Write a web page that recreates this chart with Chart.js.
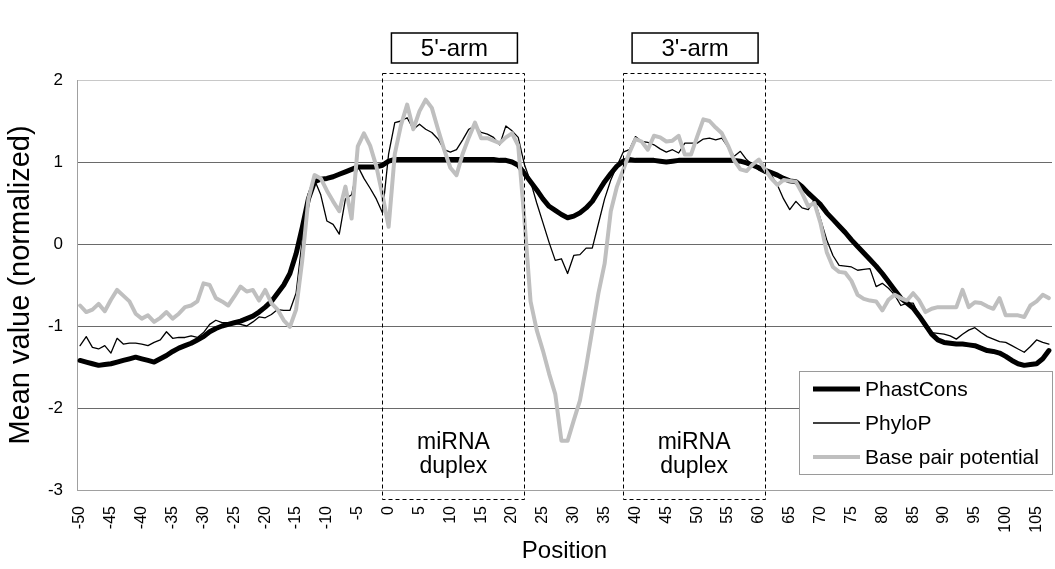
<!DOCTYPE html>
<html><head><meta charset="utf-8">
<script src="https://cdn.jsdelivr.net/npm/chart.js@4.4.0/dist/chart.umd.min.js"></script>
<style>html,body{margin:0;padding:0;background:#fff}</style>
</head><body>
<canvas id="c" width="1055" height="569"></canvas>
<script>
// Categories: positions -50 .. 107
const positions = Array.from({length: 158}, (_, i) => i - 50);
const xTickLabels = [-50,-45,-40,-35,-30,-25,-20,-15,-10,-5,0,5,10,15,20,25,30,35,40,45,50,55,60,65,70,75,80,85,90,95,100,105];
const yTickValues = [-3,-2,-1,0,1,2];

const phastCons = [
-1.42,-1.44,-1.46,-1.48,-1.47,-1.46,-1.44,-1.42,-1.40,-1.38,
-1.40,-1.42,-1.44,-1.40,-1.36,-1.31,-1.27,-1.24,-1.21,-1.17,
-1.13,-1.07,-1.03,-1.00,-0.98,-0.96,-0.94,-0.91,-0.88,-0.83,
-0.77,-0.70,-0.60,-0.50,-0.36,-0.12,0.20,0.55,0.76,0.79,
0.80,0.82,0.85,0.88,0.91,0.94,0.94,0.94,0.94,0.96,
1.01,1.03,1.03,1.03,1.03,1.03,1.03,1.03,1.03,1.03,
1.03,1.03,1.03,1.03,1.03,1.03,1.03,1.03,1.02,1.02,
1.00,0.96,0.86,0.76,0.66,0.55,0.46,0.41,0.36,0.32,
0.34,0.38,0.44,0.52,0.64,0.76,0.86,0.95,1.01,1.03,
1.02,1.02,1.02,1.02,1.01,1.00,1.01,1.02,1.02,1.02,
1.02,1.02,1.02,1.02,1.02,1.02,1.02,1.01,0.99,0.96,
0.93,0.90,0.87,0.84,0.80,0.77,0.76,0.70,0.62,0.55,
0.48,0.38,0.30,0.22,0.14,0.05,-0.03,-0.11,-0.19,-0.27,
-0.36,-0.46,-0.56,-0.66,-0.72,-0.78,-0.88,-0.99,-1.10,-1.17,
-1.20,-1.21,-1.22,-1.22,-1.23,-1.24,-1.27,-1.30,-1.31,-1.33,
-1.37,-1.42,-1.46,-1.48,-1.47,-1.46,-1.40,-1.30];

const phyloP = [
-1.24,-1.13,-1.26,-1.28,-1.24,-1.33,-1.15,-1.22,-1.21,-1.21,
-1.22,-1.24,-1.20,-1.17,-1.07,-1.15,-1.14,-1.14,-1.12,-1.14,
-1.08,-0.98,-0.93,-0.96,-0.96,-0.97,-0.98,-1.00,-0.95,-0.89,
-0.90,-0.86,-0.80,-0.81,-0.81,-0.60,0.05,0.62,0.78,0.60,
0.28,0.24,0.12,0.55,0.60,0.95,0.80,0.68,0.55,0.38,
1.10,1.48,1.50,1.54,1.40,1.46,1.40,1.36,1.28,1.15,
1.12,1.15,1.27,1.40,1.44,1.36,1.34,1.30,1.21,1.44,
1.38,1.30,0.97,0.76,0.50,0.26,0.02,-0.20,-0.18,-0.36,
-0.14,-0.13,-0.05,-0.05,0.25,0.55,0.78,0.95,1.12,1.15,
1.31,1.25,1.24,1.21,1.16,1.12,1.15,1.11,1.23,1.23,
1.23,1.28,1.29,1.27,1.29,1.18,1.07,1.13,1.03,0.96,
0.90,0.86,0.84,0.72,0.55,0.42,0.52,0.44,0.42,0.54,
0.30,0.05,-0.14,-0.26,-0.27,-0.28,-0.32,-0.31,-0.30,-0.52,
-0.48,-0.54,-0.62,-0.75,-0.72,-0.72,-0.88,-1.02,-1.08,-1.09,
-1.10,-1.12,-1.16,-1.10,-1.05,-1.02,-1.08,-1.13,-1.16,-1.19,
-1.20,-1.24,-1.28,-1.32,-1.25,-1.17,-1.20,-1.22];

const basePair = [
-0.75,-0.83,-0.80,-0.73,-0.82,-0.68,-0.56,-0.63,-0.70,-0.85,
-0.91,-0.87,-0.95,-0.90,-0.83,-0.91,-0.85,-0.77,-0.75,-0.70,
-0.48,-0.50,-0.66,-0.70,-0.75,-0.64,-0.52,-0.58,-0.56,-0.69,
-0.56,-0.72,-0.80,-0.93,-1.01,-0.80,-0.20,0.55,0.84,0.80,
0.65,0.52,0.40,0.70,0.31,1.19,1.35,1.20,0.95,0.60,
0.21,1.10,1.45,1.70,1.40,1.62,1.76,1.66,1.40,1.15,
0.93,0.84,1.10,1.30,1.48,1.29,1.29,1.26,1.23,1.30,
1.35,1.20,0.30,-0.70,-1.05,-1.30,-1.58,-1.83,-2.40,-2.40,
-2.15,-1.91,-1.50,-1.05,-0.60,-0.24,0.40,0.70,0.90,1.11,
1.28,1.25,1.15,1.32,1.30,1.25,1.26,1.32,1.09,1.09,
1.31,1.52,1.50,1.42,1.35,1.20,1.02,0.91,0.89,0.97,
1.03,0.91,0.80,0.72,0.78,0.77,0.76,0.62,0.46,0.50,
0.25,-0.10,-0.28,-0.34,-0.35,-0.45,-0.62,-0.67,-0.69,-0.70,
-0.81,-0.68,-0.62,-0.66,-0.69,-0.60,-0.69,-0.83,-0.79,-0.77,
-0.77,-0.77,-0.77,-0.56,-0.77,-0.71,-0.72,-0.76,-0.79,-0.66,
-0.87,-0.87,-0.87,-0.89,-0.75,-0.70,-0.62,-0.66];

const seriesNames = ['PhastCons', 'PhyloP', 'Base pair potential'];
const arms = [
  {label: "5'-arm", from: -1, to: 22},
  {label: "3'-arm", from: 38, to: 61}
];
const regionText = ['miRNA', 'duplex'];

const FONT = "'Liberation Sans', Arial, Helvetica, sans-serif";

const overlay = {
  id: 'overlay',
  afterDatasetsDraw(chart) {
    const {ctx, chartArea: ca, scales: {x}} = chart;
    ctx.save();
    arms.forEach(a => {
      const x0 = x.getPixelForValue(a.from + 50);
      const x1 = x.getPixelForValue(a.to + 50);
      ctx.setLineDash([4, 3]);
      ctx.strokeStyle = '#000';
      ctx.lineWidth = 1;
      ctx.strokeRect(Math.round(x0) + 0.5, ca.top - 7 + 0.5, Math.round(x1 - x0), ca.bottom - ca.top + 16);
      ctx.setLineDash([]);
      const cx = (x0 + x1) / 2;
      ctx.fillStyle = '#000';
      ctx.font = '23px ' + FONT;
      ctx.textAlign = 'center';
      ctx.textBaseline = 'middle';
      ctx.fillText(regionText[0], cx, ca.bottom - 47);
      ctx.fillText(regionText[1], cx, ca.bottom - 23);
      const w = 126, h = 30;
      const bx = cx - w / 2 + 1, by = ca.top - 47;
      ctx.fillStyle = '#fff';
      ctx.fillRect(bx, by, w, h);
      ctx.lineWidth = 1.5;
      ctx.strokeStyle = '#000';
      ctx.strokeRect(bx, by, w, h);
      ctx.fillStyle = '#000';
      ctx.font = '24px ' + FONT;
      ctx.fillText(a.label, bx + w / 2, by + h / 2 + 1);
    });
    ctx.restore();
  },
  afterDraw(chart) {
    const {ctx, chartArea: ca} = chart;
    const ds = chart.data.datasets;
    ctx.save();
    const L = ca.right - 253, T = ca.top + 291, R = ca.right + 1, B = ca.top + 394;
    ctx.fillStyle = '#fff';
    ctx.fillRect(L, T, R - L, B - T);
    ctx.strokeStyle = '#9a9a9a';
    ctx.lineWidth = 1;
    ctx.strokeRect(L + 0.5, T + 0.5, R - L - 1, B - T);
    ds.forEach((d, i) => {
      const yy = T + 18 + i * 34;
      ctx.strokeStyle = d.borderColor;
      ctx.lineWidth = d.borderWidth;
      ctx.beginPath();
      ctx.moveTo(L + 14, yy);
      ctx.lineTo(L + 61, yy);
      ctx.stroke();
      ctx.fillStyle = '#000';
      ctx.font = '21px ' + FONT;
      ctx.textAlign = 'left';
      ctx.textBaseline = 'middle';
      ctx.fillText(d.label, L + 66, yy + 1);
    });
    ctx.restore();
  }
};

new Chart(document.getElementById('c'), {
  type: 'line',
  data: {
    labels: positions,
    datasets: [
      {label: seriesNames[0], data: phastCons, borderColor: '#000', borderWidth: 5, order: 3},
      {label: seriesNames[1], data: phyloP, borderColor: '#000', borderWidth: 1.3, order: 2},
      {label: seriesNames[2], data: basePair, borderColor: '#bfbfbf', borderWidth: 4, order: 1}
    ]
  },
  options: {
    responsive: false,
    animation: false,
    devicePixelRatio: 1,
    layout: {padding: {left: 0, top: 80, right: 3, bottom: 0}},
    elements: {point: {radius: 0}, line: {tension: 0, borderJoinStyle: 'round', borderCapStyle: 'round'}},
    plugins: {legend: {display: false}, tooltip: {enabled: false}},
    scales: {
      x: {
        type: 'category',
        offset: true,
        grid: {display: false, drawTicks: false},
        border: {display: true, color: '#a0a0a0', width: 1},
        ticks: {
          autoSkip: false, minRotation: 90, maxRotation: 90, padding: 16,
          color: '#000', font: {family: FONT, size: 16},
          callback: function(v, i) { const p = positions[i]; return xTickLabels.includes(p) ? String(p) : ''; }
        },
        title: {display: true, text: 'Position', color: '#000', font: {family: FONT, size: 24}, padding: {top: 4, bottom: 3}},
        afterFit: s => { s.height = 79; s.paddingLeft = 0; s.paddingRight = 0; }
      },
      y: {
        min: -3, max: 2,
        afterBuildTicks: s => { s.ticks = yTickValues.map(v => ({value: v})); },
        grid: {drawTicks: false, color: c => (c.tick && c.tick.value === 2) ? '#c8c8c8' : (c.tick && c.tick.value === -3 ? 'rgba(0,0,0,0)' : '#6a6a6a'), lineWidth: 1},
        border: {display: true, color: '#a0a0a0', width: 1},
        ticks: {padding: 14, color: '#000', font: {family: FONT, size: 17}},
        title: {display: true, text: 'Mean value (normalized)', color: '#000', font: {family: FONT, size: 29}, padding: {top: 4, bottom: 4}},
        afterFit: s => { s.width = 77; s.paddingTop = 0; s.paddingBottom = 0; }
      }
    }
  },
  plugins: [overlay]
});
</script>
</body></html>
